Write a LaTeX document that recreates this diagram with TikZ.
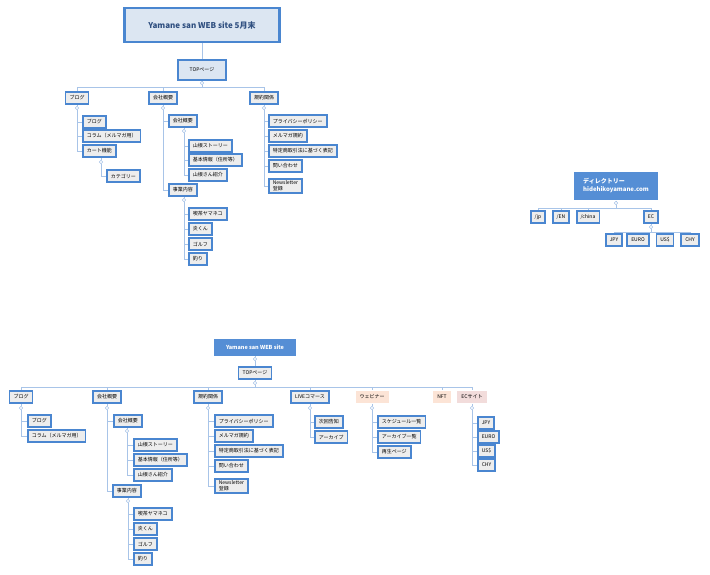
\documentclass[tikz,border=0pt]{standalone}
\usepackage{fontspec}
\setmainfont{Noto Sans CJK JP}
\usetikzlibrary{positioning}
\definecolor{bbord}{HTML}{4A86D0}
\definecolor{bfill}{HTML}{EDEDED}
\definecolor{lconn}{HTML}{A8C4E8}
\definecolor{tfill}{HTML}{558ED5}
\definecolor{hfill}{HTML}{DCE6F2}
\definecolor{htext}{HTML}{2F4F80}
\definecolor{ofill}{HTML}{FCE4D6}
\definecolor{pfill}{HTML}{F2DCDB}
\tikzset{
  box/.style={draw=bbord, line width=1.6pt, fill=bfill, anchor=west, inner xsep=4pt, inner ysep=2pt,
    minimum height=12pt, font=\fontsize{5}{6}\selectfont, align=left},
  mid/.style={box, anchor=center},
  dot/.style={circle, draw=lconn, fill=white, inner sep=0pt, minimum size=3.5pt},
  conn/.style={draw=lconn, line width=0.8pt},
  tag/.style={mid, draw=none, fill=#1}
}
\begin{document}
\begin{tikzpicture}[x=1pt,y=-1pt]
  \useasboundingbox (0,0) rectangle (710,575);
  % ---- upper tree ----
  \node [mid, fill=hfill, line width=2.2pt, minimum width=155pt, minimum height=34pt,
    font=\fontsize{8}{9}\selectfont\bfseries, text=htext] (t1) at (202,25) {Yamane san WEB site 5月末};
  \node [mid, fill=hfill, minimum width=48pt, minimum height=20pt] (top1) at (202,70) {TOPページ};
  \node [dot] (c1) at (202,83) {};
  \draw [conn] (t1) -- (top1);
  \draw [conn] (top1) -- (c1);
  \node [mid] (blog1) at (77,98) {ブログ};
  \node [mid] (kaisha1) at (163,98) {会社概要};
  \node [mid] (kiyaku1) at (264,98) {規約関係};
  \foreach \n in {blog1,kaisha1,kiyaku1} \draw [conn] (c1) -- ++(0,4) -| (\n.north);
  % blog
  \node [dot] (cb1) at (77,108) {};
  \node [box] (bl1) at (82,122) {ブログ};
  \node [box] (col1) at (82,136) {コラム（メルマガ用）};
  \node [box] (cart1) at (82,151) {カート機能};
  \node [dot] (cc1) at (101,162) {};
  \node [box] (cat1) at (106,176) {カテゴリー};
  \draw [conn] (blog1) -- (cb1);
  \foreach \n in {bl1,col1,cart1} \draw [conn] (cb1) |- (\n.west);
  \draw [conn] (cart1.south -| cc1) -- (cc1) |- (cat1.west);
  % kaisha
  \node [dot] (ck1) at (163,108) {};
  \node [box] (gai1) at (168,121) {会社概要};
  \node [box] (jig1) at (168,190) {事業内容};
  \draw [conn] (kaisha1) -- (ck1);
  \foreach \n in {gai1,jig1} \draw [conn] (ck1) |- (\n.west);
  \node [dot] (cg1) at (184,131) {};
  \node [box] (sto1) at (188,146) {山根ストーリー};
  \node [box] (kih1) at (188,160) {基本情報（住所等）};
  \node [box] (sho1) at (188,175) {山根さん紹介};
  \draw [conn] (gai1.south -| cg1) -- (cg1);
  \foreach \n in {sto1,kih1,sho1} \draw [conn] (cg1) |- (\n.west);
  \node [dot] (cj1) at (184,200) {};
  \node [box] (kis1) at (188,214) {喫茶ヤマネコ};
  \node [box] (hon1) at (188,229) {炎くん};
  \node [box] (gol1) at (188,244) {ゴルフ};
  \node [box] (tsu1) at (188,259) {釣り};
  \draw [conn] (jig1.south -| cj1) -- (cj1);
  \foreach \n in {kis1,hon1,gol1,tsu1} \draw [conn] (cj1) |- (\n.west);
  % kiyaku
  \node [dot] (cy1) at (264,108) {};
  \node [box] (pri1) at (268,121) {プライバシーポリシー};
  \node [box] (mel1) at (268,136) {メルマガ規約};
  \node [box] (tok1) at (268,151) {特定商取引法に基づく表記};
  \node [box] (toi1) at (268,166) {問い合わせ};
  \node [box] (new1) at (268,186) {Newsletter\\登録};
  \draw [conn] (kiyaku1) -- (cy1);
  \foreach \n in {pri1,mel1,tok1,toi1,new1} \draw [conn] (cy1) |- (\n.west);
  % ---- directory ----
  \node [mid, draw=none, fill=tfill, text=white, minimum width=84pt, minimum height=28pt,
    font=\fontsize{6}{8}\selectfont\bfseries] (dir) at (616,186) {ディレクトリー\\hidehikoyamane.com};
  \node [dot] (cd) at (616,203) {};
  \draw [conn] (dir) -- (cd);
  \node [mid] (jp) at (538,217) {/jp};
  \node [mid] (en) at (561,217) {/EN};
  \node [mid] (china) at (588,217) {/china};
  \node [mid] (ec) at (651,217) {EC};
  \foreach \n in {jp,en,china,ec} \draw [conn] (cd) -- ++(0,5) -| (\n.north);
  \node [dot] (ce) at (651,227) {};
  \draw [conn] (ec) -- (ce);
  \node [mid] (jpy) at (614,240) {JPY};
  \node [mid] (euro) at (638,240) {EURO};
  \node [mid] (usd) at (665,240) {US\$};
  \node [mid] (chy) at (690,240) {CHY};
  \foreach \n in {jpy,euro,usd,chy} \draw [conn] (ce) -- ++(0,5) -| (\n.north);
  % ---- lower tree ----
  \node [mid, draw=none, fill=tfill, text=white, minimum width=82pt, minimum height=17pt,
    font=\fontsize{5.5}{6}\selectfont\bfseries] (t2) at (255,347) {Yamane san WEB site};
  \node [dot] (c2a) at (255,359) {};
  \node [mid] (top2) at (255,373) {TOPページ};
  \node [dot] (c2) at (255,383) {};
  \draw [conn] (t2) -- (c2a) -- (top2) -- (c2);
  \node [mid] (blog2) at (21,397) {ブログ};
  \node [mid] (kaisha2) at (107,397) {会社概要};
  \node [mid] (kiyaku2) at (208,397) {規約関係};
  \node [mid] (live2) at (310,397) {LIVEコマース};
  \node [tag=ofill] (web2) at (372,397) {ウェビナー};
  \node [tag=ofill] (nft2) at (442,397) {NFT};
  \node [tag=pfill] (ecs2) at (472,397) {ECサイト};
  \foreach \n in {blog2,kaisha2,kiyaku2,live2,web2,nft2,ecs2} \draw [conn] (c2) -- ++(0,4) -| (\n.north);
  % blog
  \node [dot] (cb2) at (21,408) {};
  \node [box] (bl2) at (27,421) {ブログ};
  \node [box] (col2) at (27,436) {コラム（メルマガ用）};
  \draw [conn] (blog2) -- (cb2);
  \foreach \n in {bl2,col2} \draw [conn] (cb2) |- (\n.west);
  % kaisha
  \node [dot] (ck2) at (107,408) {};
  \node [box] (gai2) at (113,421) {会社概要};
  \node [box] (jig2) at (112,491) {事業内容};
  \draw [conn] (kaisha2) -- (ck2);
  \foreach \n in {gai2,jig2} \draw [conn] (ck2) |- (\n.west);
  \node [dot] (cg2) at (127,431) {};
  \node [box] (sto2) at (133,445) {山根ストーリー};
  \node [box] (kih2) at (133,460) {基本情報（住所等）};
  \node [box] (sho2) at (133,475) {山根さん紹介};
  \draw [conn] (gai2.south -| cg2) -- (cg2);
  \foreach \n in {sto2,kih2,sho2} \draw [conn] (cg2) |- (\n.west);
  \node [dot] (cj2) at (128,501) {};
  \node [box] (kis2) at (133,514) {喫茶ヤマネコ};
  \node [box] (hon2) at (133,529) {炎くん};
  \node [box] (gol2) at (133,544) {ゴルフ};
  \node [box] (tsu2) at (133,559) {釣り};
  \draw [conn] (jig2.south -| cj2) -- (cj2);
  \foreach \n in {kis2,hon2,gol2,tsu2} \draw [conn] (cj2) |- (\n.west);
  % kiyaku
  \node [dot] (cy2) at (208,408) {};
  \node [box] (pri2) at (214,421) {プライバシーポリシー};
  \node [box] (mel2) at (214,436) {メルマガ規約};
  \node [box] (tok2) at (214,451) {特定商取引法に基づく表記};
  \node [box] (toi2) at (214,466) {問い合わせ};
  \node [box] (new2) at (214,486) {Newsletter\\登録};
  \draw [conn] (kiyaku2) -- (cy2);
  \foreach \n in {pri2,mel2,tok2,toi2,new2} \draw [conn] (cy2) |- (\n.west);
  % live
  \node [dot] (cl2) at (310,408) {};
  \node [box] (nex2) at (314,422) {次回告知};
  \node [box] (arc2) at (314,437) {アーカイブ};
  \draw [conn] (live2) -- (cl2);
  \foreach \n in {nex2,arc2} \draw [conn] (cl2) |- (\n.west);
  % webinar
  \node [dot] (cw2) at (372,408) {};
  \node [box] (sch2) at (377,422) {スケジュール一覧};
  \node [box] (arl2) at (377,437) {アーカイブ一覧};
  \node [box] (pla2) at (377,452) {再生ページ};
  \draw [conn] (web2) -- (cw2);
  \foreach \n in {sch2,arl2,pla2} \draw [conn] (cw2) |- (\n.west);
  % ec
  \node [dot] (ce2) at (472,408) {};
  \node [box] (jpy2) at (477,423) {JPY};
  \node [box] (euro2) at (477,437) {EURO};
  \node [box] (usd2) at (477,451) {US\$};
  \node [box] (chy2) at (477,465) {CHY};
  \draw [conn] (ecs2) -- (ce2);
  \foreach \n in {jpy2,euro2,usd2,chy2} \draw [conn] (ce2) |- (\n.west);
\end{tikzpicture}
\end{document}
